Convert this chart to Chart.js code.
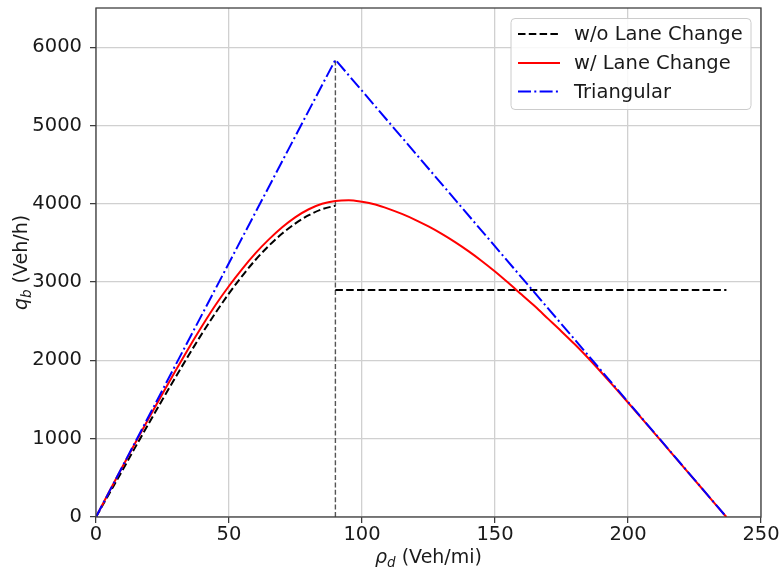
<!DOCTYPE html>
<html>
<head>
<meta charset="utf-8">
<script src="https://cdn.jsdelivr.net/npm/chart.js@4/dist/chart.umd.min.js"></script>
<style>
html,body{margin:0;padding:0;background:#fff;}
#wrap{width:779px;height:571px;}
</style>
</head>
<body>
<div id="wrap"><canvas id="c" width="779" height="571"></canvas></div>
<script>
// ---- data ----
const xTickValues = [0, 50, 100, 150, 200, 250];
const yTickValues = [0, 1000, 2000, 3000, 4000, 5000, 6000];

// w/o Lane Change: free-flow branch
const rhoWithoutFree = [0,5,10,15,20,25,30,35,40,45,50,55,60,65,70,75,80,85,90];
const qWithoutFree   = [0,300,600,905,1205,1500,1790,2075,2350,2610,2855,3080,3285,3465,3620,3750,3855,3930,3975];
// w/o Lane Change: congested (flat) branch
const rhoWithoutCong = [90, 237];
const qWithoutCong   = [2900, 2900];

// w/ Lane Change
const rhoWith = [0,5,10,15,20,25,30,35,40,45,50,55,60,65,70,75,80,85,90,95,100,105,110,115,120,125,130,135,140,145,150,155,160,165,170,175,180,185,190,195,200,205,210,215,220,225,230,235,237];
const qWith   = [0,325,645,960,1270,1575,1875,2165,2445,2710,2950,3170,3370,3545,3700,3830,3930,4000,4036,4045,4025,3990,3935,3870,3795,3710,3615,3510,3395,3270,3135,2990,2840,2690,2530,2370,2205,2030,1845,1655,1462,1266,1069,871,673,475,277,78,0];

// Triangular
const rhoTri = [0, 90, 237];
const qTri   = [0, 5840, 0];

// critical density marker (vertical line)
const rhoCrit = [90, 90];
const qCrit   = [0, 5840];

const legendLabels = ['w/o Lane Change', 'w/ Lane Change', 'Triangular'];

function pts(xs, ys){ return xs.map((x,i)=>({x:x, y:ys[i]})); }

const FONT = '"DejaVu Sans", "Liberation Sans", sans-serif';
const TXT = '#1a1a1a';

const extras = {
  id: 'extras',
  afterDraw(chart){
    const ctx = chart.ctx;
    const a = chart.chartArea;
    ctx.save();
    // frame
    ctx.strokeStyle = '#404040';
    ctx.lineWidth = 1.3;
    ctx.setLineDash([]);
    ctx.strokeRect(a.left, a.top, a.right - a.left, a.bottom - a.top);

    // legend box
    const bw = 240, bh = 91;
    const bx = a.right - 10 - bw, by = a.top + 10.5;
    ctx.beginPath();
    ctx.roundRect(bx, by, bw, bh, 4);
    ctx.fillStyle = 'rgba(255,255,255,0.85)';
    ctx.fill();
    ctx.strokeStyle = '#cccccc';
    ctx.lineWidth = 1;
    ctx.stroke();

    const styles = [
      {color:'#000000', dash:[7.5,3.3], w:2},
      {color:'#ff0000', dash:[], w:2},
      {color:'#0000ff', dash:[13,3.3,2,3.3], w:2}
    ];
    const rowY = [by + 15.5, by + 44.5, by + 73];
    ctx.font = '19.5px ' + FONT;
    ctx.textBaseline = 'middle';
    ctx.textAlign = 'left';
    for (let i = 0; i < 3; i++){
      const s = styles[i];
      ctx.beginPath();
      ctx.strokeStyle = s.color;
      ctx.lineWidth = s.w;
      ctx.setLineDash(s.dash);
      ctx.moveTo(bx + 7, rowY[i]);
      ctx.lineTo(bx + 49, rowY[i]);
      ctx.stroke();
      ctx.setLineDash([]);
      ctx.fillStyle = TXT;
      ctx.fillText(legendLabels[i], bx + 63, rowY[i] + 1);
    }

    // axis titles with math sub-scripts
    function drawParts(parts){
      let w = 0;
      parts.forEach(p=>{ ctx.font = p.font; p.w = ctx.measureText(p.t).width; w += p.w; });
      let x = -w/2;
      ctx.textBaseline = 'alphabetic';
      ctx.textAlign = 'left';
      ctx.fillStyle = TXT;
      parts.forEach(p=>{ ctx.font = p.font; ctx.fillText(p.t, x, p.dy); x += p.w; });
    }
    // x title
    ctx.save();
    ctx.translate((a.left + a.right)/2, 563);
    drawParts([
      {t:'ρ', font:'italic 19px ' + FONT, dy:0},
      {t:'d', font:'italic 13.5px ' + FONT, dy:4},
      {t:' (Veh/mi)', font:'19px ' + FONT, dy:0}
    ]);
    ctx.restore();
    // y title
    ctx.save();
    ctx.translate(27, (a.top + a.bottom)/2);
    ctx.rotate(-Math.PI/2);
    drawParts([
      {t:'q', font:'italic 19px ' + FONT, dy:0},
      {t:'b', font:'italic 13.5px ' + FONT, dy:4},
      {t:' (Veh/h)', font:'19px ' + FONT, dy:0}
    ]);
    ctx.restore();
    ctx.restore();
  }
};

const gridCfg = { color:'#d0d0d0', lineWidth:1.3, tickLength:6, tickColor:'#333333', tickWidth:1.2 };

new Chart(document.getElementById('c'), {
  type: 'line',
  data: {
    datasets: [
      { label:'Triangular', data: pts(rhoTri, qTri), borderColor:'#0000ff', borderWidth:2,
        borderDash:[13,3.3,2,3.3], pointRadius:0, tension:0, order:0 },
      { label:'w/ Lane Change', data: pts(rhoWith, qWith), borderColor:'#ff0000', borderWidth:2,
        pointRadius:0, cubicInterpolationMode:'monotone', order:1 },
      { label:'w/o Lane Change', data: pts(rhoWithoutFree, qWithoutFree), borderColor:'#000000', borderWidth:2,
        borderDash:[7.5,3.3], pointRadius:0, cubicInterpolationMode:'monotone', order:2 },
      { label:'w/o Lane Change (congested)', data: pts(rhoWithoutCong, qWithoutCong), borderColor:'#000000', borderWidth:2,
        borderDash:[7.5,3.3], pointRadius:0, tension:0, order:2 },
      { label:'critical', data: pts(rhoCrit, qCrit), borderColor:'#555555', borderWidth:1.4,
        borderDash:[5,2.4], pointRadius:0, tension:0, order:3 }
    ]
  },
  options: {
    responsive:false,
    animation:false,
    devicePixelRatio:1,
    layout:{ padding:{ left:0, right:18, top:8, bottom:0 } },
    plugins:{ legend:{display:false}, tooltip:{enabled:false} },
    scales:{
      x:{
        type:'linear', min:0, max:250,
        afterBuildTicks(s){ s.ticks = xTickValues.map(v=>({value:v})); },
        afterFit(s){ s.height = 54; s.paddingLeft = 0; s.paddingRight = 0; },
        ticks:{ font:{family:FONT, size:19.5}, color:TXT, padding:0, maxRotation:0,
                callback:(v)=>String(v) },
        grid: gridCfg,
        border:{ display:false }
      },
      y:{
        type:'linear', min:0, max:6500,
        afterBuildTicks(s){ s.ticks = yTickValues.map(v=>({value:v})); },
        afterFit(s){ s.width = 96; s.paddingTop = 0; s.paddingBottom = 0; },
        ticks:{ font:{family:FONT, size:19.5}, color:TXT, padding:8,
                callback:(v)=>String(v) },
        grid: gridCfg,
        border:{ display:false }
      }
    }
  },
  plugins:[extras]
});
</script>
</body>
</html>
